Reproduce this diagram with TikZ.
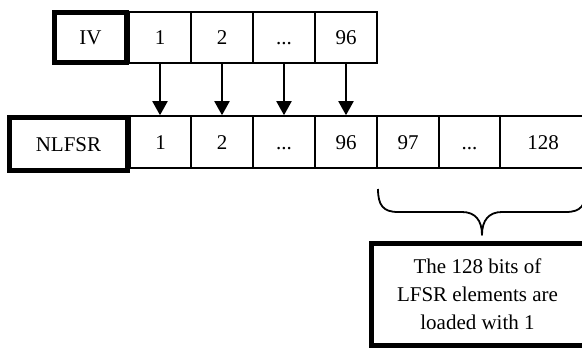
\documentclass[tikz,border=0pt]{standalone}
\usepackage{fontspec}
\setmainfont{Liberation Serif}
\usetikzlibrary{arrows.meta}
\begin{document}
\begin{tikzpicture}[x=1pt,y=-1pt,
  txt/.style={font=\fontsize{21}{28}\selectfont},
  oneline/.style={txt, text height=14pt, text depth=0pt},
  cell/.style={draw, line width=1.6pt, inner sep=0pt, minimum height=51pt, minimum width=62pt, oneline},
  label/.style={draw, line width=5pt, inner sep=0pt, txt},
  feed/.style={line width=2pt, -{Triangle[width=15pt,length=14pt]}},
  brace/.style={line width=1.8pt, line join=round}]
\useasboundingbox (0,0) rectangle (582,349);
\clip (0,0) rectangle (582,349);

% IV register
\node[label, oneline, minimum width=72pt, minimum height=50pt] (iv) at (90.5,37.5) {IV};
\node[cell] (t1) at (160,37.5) {1};
\node[cell] (t2) at (222,37.5) {2};
\node[cell] (t3) at (284,37.5) {...};
\node[cell] (t4) at (346,37.5) {96};

% NLFSR register
\node[label, oneline, minimum width=118pt, minimum height=53pt] (nl) at (68.5,144) {NLFSR};
\node[cell, minimum height=52pt, minimum width=61pt] (b1) at (160.5,142) {1};
\node[cell, minimum height=52pt] (b2) at (222,142) {2};
\node[cell, minimum height=52pt] (b3) at (284,142) {...};
\node[cell, minimum height=52pt] (b4) at (346,142) {96};
\node[cell, minimum height=52pt] (b5) at (408,142) {97};
\node[cell, minimum height=52pt, minimum width=61pt] (b6) at (469.5,142) {...};
\node[cell, minimum height=52pt, minimum width=86pt] (b7) at (543,142) {128};

% IV bits loaded into the first 96 cells
\draw[feed] (t1.south) -- (t1.south |- b1.north);
\draw[feed] (t2.south) -- (t2.south |- b2.north);
\draw[feed] (t3.south) -- (t3.south |- b3.north);
\draw[feed] (t4.south) -- (t4.south |- b4.north);

% brace over cells 97..128
\coordinate (bl) at (378,189);
\coordinate (bt) at (482,235);
\coordinate (br) at (586,189);
\draw[brace] (bl) .. controls (378,205) and (383,212) .. (398,212) -- (462,212)
  .. controls (475,212) and (482,220) .. (bt)
  .. controls (482,220) and (489,212) .. (502,212) -- (566,212)
  .. controls (581,212) and (586,205) .. (br);

% note
\node[label, minimum width=213pt, minimum height=101.5pt, align=center] (note) at (477.5,294.5)
  {The 128 bits of\\LFSR elements are\\loaded with 1};
\end{tikzpicture}
\end{document}
